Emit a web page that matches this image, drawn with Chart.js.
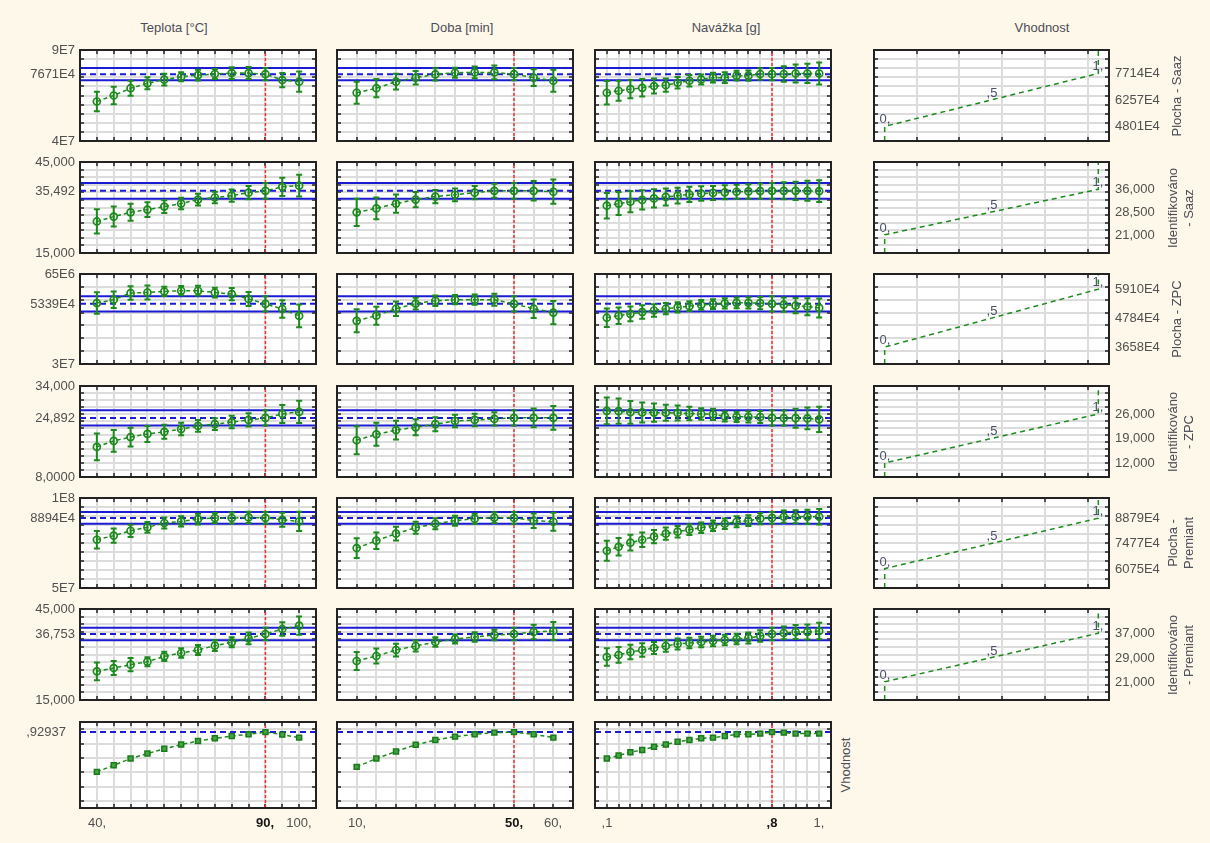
<!DOCTYPE html>
<html>
<head>
<meta charset="utf-8">
<script src="https://cdn.jsdelivr.net/npm/chart.js@4.4.0/dist/chart.umd.min.js"></script>
<style>
  html, body { margin: 0; padding: 0; background: #fef8ea; }
  #page { position: relative; width: 1210px; height: 843px; overflow: hidden; background: #fef8ea;
          font-family: "Liberation Sans", Arial, sans-serif; }
  #page canvas { position: absolute; }
  .coltitle { position: absolute; font-size: 13px; color: #4d4d58; white-space: nowrap;
              width: 200px; height: 16px; line-height: 16px; text-align: center; }
  .rowtitle { position: absolute; font-size: 13px; color: #4d4d58; white-space: nowrap; text-align: center;
              width: 120px; line-height: 16px; transform: rotate(-90deg); }
</style>
</head>
<body>
<div id="page"></div>
<script>
// ---- factor levels -------------------------------------------------------
const teplotaLevels = [40, 45, 50, 55, 60, 65, 70, 75, 80, 85, 90, 95, 100];
const dobaLevels = [10, 15, 20, 25, 30, 35, 40, 45, 50, 55, 60];
const navazkaLevels = [0.10, 0.15, 0.20, 0.25, 0.30, 0.35, 0.40, 0.45, 0.50, 0.55,
                       0.60, 0.65, 0.70, 0.75, 0.80, 0.85, 0.90, 0.95, 1.00];
const teplotaCurrent = 90, dobaCurrent = 50, navazkaCurrent = 0.8;

const teplotaTickValues = [40, 90, 100];
const teplotaTickText = ['40,', '90,', '100,'];
const dobaTickValues = [10, 50, 60];
const dobaTickText = ['10,', '50,', '60,'];
const navazkaTickValues = [0.1, 0.8, 1.0];
const navazkaTickText = [',1', ',8', '1,'];

const columnTitles = ['Teplota [°C]', 'Doba [min]', 'Navážka [g]', 'Vhodnost'];

// ---- Plocha - Saaz -------------------------------------------------------
const plochaSaazPred = 76710000;
const plochaSaazTeplota = [61.7e6, 65.0e6, 69.0e6, 71.7e6, 73.7e6, 75.3e6, 76.2e6, 76.8e6, 77.3e6, 77.3e6, 76.71e6, 73.5e6, 72.6e6];
const plochaSaazTeplotaErr = [5.4e6, 4.8e6, 4.1e6, 3.3e6, 3.2e6, 2.5e6, 2.9e6, 2.7e6, 3.2e6, 3.3e6, 3.35e6, 3.9e6, 5.6e6];
const plochaSaazDoba = [66.5e6, 69.0e6, 72.6e6, 74.8e6, 76.6e6, 77.5e6, 77.7e6, 77.7e6, 76.71e6, 74.8e6, 73.1e6];
const plochaSaazDobaErr = [6.1e6, 5.0e6, 4.3e6, 3.7e6, 3.4e6, 2.7e6, 3.2e6, 3.8e6, 3.35e6, 4.6e6, 6.1e6];
const plochaSaazNavazka = [66.5e6, 67.6e6, 68.5e6, 69.2e6, 70.2e6, 70.7e6, 72.0e6, 73.1e6, 73.8e6, 74.8e6,
                           74.8e6, 75.9e6, 75.9e6, 76.8e6, 76.71e6, 76.8e6, 77.1e6, 77.1e6, 77.1e6];
const plochaSaazNavazkaErr = [6.4e6, 5.5e6, 5.0e6, 4.8e6, 4.1e6, 3.7e6, 3.2e6, 3.2e6, 2.7e6, 2.7e6,
                              3.0e6, 2.7e6, 2.8e6, 3.2e6, 3.35e6, 4.3e6, 5.0e6, 5.3e6, 6.1e6];
const plochaSaazDes = [48010000, 62570000, 77140000];
const plochaSaazLeftText = ['9E7', '7671E4', '4E7'];
const plochaSaazRightText = ['7714E4', '6257E4', '4801E4'];

// ---- Identifikováno - Saaz ----------------------------------------------
const identSaazPred = 35492;
const identSaazTeplota = [25400, 27000, 28400, 29300, 30300, 31300, 32600, 33300, 33900, 34900, 35492, 36800, 37200];
const identSaazTeplotaErr = [4000, 3300, 2800, 2400, 2100, 1900, 1900, 1900, 2000, 2200, 2600, 3000, 3600];
const identSaazDoba = [28400, 29700, 31300, 32600, 33600, 34200, 34900, 35500, 35492, 35500, 35200];
const identSaazDobaErr = [4500, 3600, 3000, 2500, 2200, 2100, 2200, 2300, 2600, 3200, 4000];
const identSaazNavazka = [30600, 31300, 31900, 32500, 33000, 33500, 33900, 34300, 34600, 34800,
                          35000, 35200, 35300, 35400, 35492, 35500, 35500, 35500, 35400];
const identSaazNavazkaErr = [4200, 3800, 3500, 3200, 3000, 2800, 2600, 2500, 2400, 2300,
                             2300, 2300, 2400, 2500, 2600, 2800, 3000, 3300, 3600];
const identSaazDes = [21000, 28500, 36000];
const identSaazLeftText = ['45,000', '35,492', '15,000'];
const identSaazRightText = ['36,000', '28,500', '21,000'];

// ---- Plocha - ZPC --------------------------------------------------------
const plochaZpcPred = 53390000;
const plochaZpcTeplota = [53.7e6, 55.0e6, 57.6e6, 57.8e6, 58.2e6, 58.5e6, 58.5e6, 57.8e6, 57.2e6, 55.3e6, 53.39e6, 51.4e6, 48.7e6];
const plochaZpcTeplotaErr = [4.2e6, 3.2e6, 2.6e6, 2.7e6, 1.8e6, 1.8e6, 1.9e6, 1.9e6, 2.4e6, 2.7e6, 3.0e6, 3.4e6, 4.4e6];
const plochaZpcDoba = [46.8e6, 48.8e6, 51.5e6, 53.5e6, 54.6e6, 55.0e6, 55.0e6, 55.0e6, 53.39e6, 51.5e6, 50.0e6];
const plochaZpcDobaErr = [4.5e6, 3.5e6, 2.8e6, 2.3e6, 2.0e6, 1.8e6, 2.0e6, 2.3e6, 3.0e6, 3.6e6, 4.5e6];
const plochaZpcNavazka = [48.0e6, 48.8e6, 49.5e6, 50.2e6, 50.8e6, 51.5e6, 52.0e6, 52.5e6, 53.0e6, 53.3e6,
                          53.6e6, 53.8e6, 53.8e6, 53.7e6, 53.39e6, 53.1e6, 52.7e6, 52.3e6, 51.8e6];
const plochaZpcNavazkaErr = [3.6e6, 3.2e6, 2.9e6, 2.6e6, 2.4e6, 2.2e6, 2.0e6, 1.9e6, 1.9e6, 1.9e6,
                             2.0e6, 2.1e6, 2.2e6, 2.4e6, 3.0e6, 2.8e6, 3.0e6, 3.3e6, 3.7e6];
const plochaZpcDes = [36580000, 47840000, 59100000];
const plochaZpcLeftText = ['65E6', '5339E4', '3E7'];
const plochaZpcRightText = ['5910E4', '4784E4', '3658E4'];

// ---- Identifikováno - ZPC -----------------------------------------------
const identZpcPred = 24892;
const identZpcTeplota = [16600, 18300, 19400, 20300, 20900, 21700, 22600, 23100, 23700, 24300, 24892, 26000, 26600];
const identZpcTeplotaErr = [3800, 3100, 2700, 2300, 2000, 1800, 1700, 1700, 1800, 1900, 2150, 2600, 3200];
const identZpcDoba = [18500, 20200, 21400, 22200, 23100, 24000, 24300, 24600, 24892, 24900, 24900];
const identZpcDobaErr = [4000, 3300, 2700, 2300, 2000, 1800, 1800, 1900, 2150, 2700, 3400];
const identZpcNavazka = [26900, 26800, 26500, 26450, 26400, 26350, 26300, 26150, 26000, 25900,
                         25300, 25200, 25200, 25150, 24892, 24850, 24800, 24750, 24450];
const identZpcNavazkaErr = [3800, 3600, 3250, 2870, 2630, 2300, 2150, 1900, 1650, 1600,
                            1450, 1450, 1600, 1700, 2150, 2150, 2700, 3100, 3600];
const identZpcDes = [12000, 19000, 26000];
const identZpcLeftText = ['34,000', '24,892', '8,0000'];
const identZpcRightText = ['26,000', '19,000', '12,000'];

// ---- Plocha - Premiant ---------------------------------------------------
const plochaPremiantPred = 88940000;
const plochaPremiantTeplota = [76.8e6, 79.1e6, 81.8e6, 83.7e6, 86.1e6, 87.0e6, 88.3e6, 88.9e6, 88.9e6, 89.2e6, 88.94e6, 87.9e6, 87.0e6];
const plochaPremiantTeplotaErr = [4.9e6, 3.9e6, 3.4e6, 3.0e6, 3.1e6, 2.8e6, 3.0e6, 2.8e6, 3.1e6, 3.1e6, 3.3e6, 3.9e6, 5.4e6];
const plochaPremiantDoba = [72.2e6, 76.3e6, 80.2e6, 83.5e6, 85.7e6, 87.4e6, 88.5e6, 89.1e6, 88.94e6, 87.4e6, 86.8e6];
const plochaPremiantDobaErr = [5.5e6, 4.6e6, 3.8e6, 3.3e6, 3.0e6, 2.8e6, 2.8e6, 3.0e6, 3.3e6, 4.0e6, 5.0e6];
const plochaPremiantNavazka = [70.7e6, 72.9e6, 75.2e6, 76.8e6, 78.5e6, 80.2e6, 81.3e6, 82.4e6, 83.5e6, 84.6e6,
                               85.7e6, 86.8e6, 87.4e6, 88.5e6, 88.94e6, 89.6e6, 89.6e6, 89.6e6, 89.6e6];
const plochaPremiantNavazkaErr = [5.5e6, 4.9e6, 4.4e6, 4.0e6, 3.7e6, 3.4e6, 3.2e6, 3.0e6, 2.9e6, 2.9e6,
                                  2.9e6, 3.0e6, 3.0e6, 3.1e6, 3.3e6, 3.4e6, 3.6e6, 3.9e6, 4.3e6];
const plochaPremiantDes = [60750000, 74770000, 88790000];
const plochaPremiantLeftText = ['1E8', '8894E4', '5E7'];
const plochaPremiantRightText = ['8879E4', '7477E4', '6075E4'];

// ---- Identifikováno - Premiant ------------------------------------------
const identPremiantPred = 36753;
const identPremiantTeplota = [24440, 25540, 26640, 27630, 29390, 30490, 31480, 32910, 34010, 35320, 36753, 38400, 39500];
const identPremiantTeplotaErr = [2900, 2300, 2200, 1500, 1500, 1600, 1650, 1750, 1650, 1900, 2050, 2200, 3000];
const identPremiantDoba = [27860, 29500, 31480, 32800, 34120, 35110, 35770, 36430, 36753, 37420, 37750];
const identPremiantDobaErr = [3000, 2500, 2100, 1800, 1600, 1500, 1600, 1700, 2050, 2400, 3000];
const identPremiantNavazka = [29180, 29840, 30820, 31480, 32140, 32800, 33460, 33790, 34120, 34450,
                              34780, 35110, 35440, 36100, 36753, 37090, 37420, 37420, 37750];
const identPremiantNavazkaErr = [2900, 2600, 2400, 2200, 2000, 1900, 1800, 1700, 1700, 1700,
                                 1700, 1700, 1800, 1900, 2050, 2100, 2300, 2500, 2700];
const identPremiantDes = [21000, 29000, 37000];
const identPremiantLeftText = ['45,000', '36,753', '15,000'];
const identPremiantRightText = ['37,000', '29,000', '21,000'];

// ---- Vhodnost (overall desirability) -------------------------------------
const vhodnostPred = 0.92937;
const vhodnostTeplota = [0.652, 0.698, 0.745, 0.780, 0.813, 0.843, 0.867, 0.886, 0.902, 0.914, 0.92937, 0.912, 0.891];
const vhodnostDoba = [0.687, 0.745, 0.794, 0.841, 0.874, 0.898, 0.914, 0.926, 0.92937, 0.914, 0.891];
const vhodnostNavazka = [0.745, 0.766, 0.789, 0.804, 0.827, 0.843, 0.862, 0.874, 0.886, 0.891,
                         0.902, 0.914, 0.914, 0.919, 0.92937, 0.926, 0.919, 0.919, 0.919];
const vhodnostGrid = [0.45, 0.55, 0.65, 0.75, 0.85, 0.95];
const vhodnostLeftText = [',92937'];

const desirabilityLevels = [0, 0.5, 1];
const desirabilityText = ['0,', ',5', '1,'];
const desirabilityGrid = [0.15, 0.35, 0.55, 0.75, 0.95];

// ---- layout ---------------------------------------------------------------
const GREEN = '#1c8a1c', BLUE = '#1b1bd4', RED = '#ff2a2a', GRID = '#dcdcdc';
const TEXT = '#505050', FONT = '"Liberation Sans", Arial, sans-serif';

const factors = [
  { levels: teplotaLevels, current: teplotaCurrent, min: 35, max: 105, left: 80,
    tickValues: teplotaTickValues, tickText: teplotaTickText, titleX: 174 },
  { levels: dobaLevels, current: dobaCurrent, min: 5, max: 65, left: 337,
    tickValues: dobaTickValues, tickText: dobaTickText, titleX: 462 },
  { levels: navazkaLevels, current: navazkaCurrent, min: 0.05, max: 1.05, left: 595,
    tickValues: navazkaTickValues, tickText: navazkaTickText, titleX: 726 }
];
const PANEL_W = 236;

function steps(min, max, step) {
  const out = [];
  for (let k = 0; min + k * step <= max + step * 1e-6; k++) out.push(min + k * step);
  return out;
}

const responses = [
  { top: 50, h: 91, min: 40e6, max: 90e6, grid: steps(40e6, 90e6, 5e6), pred: plochaSaazPred,
    series: [plochaSaazTeplota, plochaSaazDoba, plochaSaazNavazka],
    errors: [plochaSaazTeplotaErr, plochaSaazDobaErr, plochaSaazNavazkaErr],
    des: plochaSaazDes, leftText: plochaSaazLeftText, rightText: plochaSaazRightText, title: ['Plocha - Saaz'] },
  { top: 162, h: 91, min: 15000, max: 45000, grid: steps(15000, 45000, 2500), pred: identSaazPred,
    series: [identSaazTeplota, identSaazDoba, identSaazNavazka],
    errors: [identSaazTeplotaErr, identSaazDobaErr, identSaazNavazkaErr],
    des: identSaazDes, leftText: identSaazLeftText, rightText: identSaazRightText, title: ['Identifikováno', '- Saaz'] },
  { top: 274, h: 90, min: 30e6, max: 65e6, grid: steps(30e6, 65e6, 5e6), pred: plochaZpcPred,
    series: [plochaZpcTeplota, plochaZpcDoba, plochaZpcNavazka],
    errors: [plochaZpcTeplotaErr, plochaZpcDobaErr, plochaZpcNavazkaErr],
    des: plochaZpcDes, leftText: plochaZpcLeftText, rightText: plochaZpcRightText, title: ['Plocha - ZPC'] },
  { top: 386, h: 91, min: 8000, max: 34000, grid: steps(8000, 34000, 2000), pred: identZpcPred,
    series: [identZpcTeplota, identZpcDoba, identZpcNavazka],
    errors: [identZpcTeplotaErr, identZpcDobaErr, identZpcNavazkaErr],
    des: identZpcDes, leftText: identZpcLeftText, rightText: identZpcRightText, title: ['Identifikováno', '- ZPC'] },
  { top: 498, h: 90, min: 50e6, max: 100e6, grid: steps(50e6, 100e6, 5e6), pred: plochaPremiantPred,
    series: [plochaPremiantTeplota, plochaPremiantDoba, plochaPremiantNavazka],
    errors: [plochaPremiantTeplotaErr, plochaPremiantDobaErr, plochaPremiantNavazkaErr],
    des: plochaPremiantDes, leftText: plochaPremiantLeftText, rightText: plochaPremiantRightText, title: ['Plocha -', 'Premiant'] },
  { top: 609, h: 91, min: 15000, max: 45000, grid: steps(15000, 45000, 2500), pred: identPremiantPred,
    series: [identPremiantTeplota, identPremiantDoba, identPremiantNavazka],
    errors: [identPremiantTeplotaErr, identPremiantDobaErr, identPremiantNavazkaErr],
    des: identPremiantDes, leftText: identPremiantLeftText, rightText: identPremiantRightText, title: ['Identifikováno', '- Premiant'] }
];
const vhodnostRow = { top: 722, h: 86, min: 0.4, max: 1.0, grid: vhodnostGrid, pred: vhodnostPred,
  series: [vhodnostTeplota, vhodnostDoba, vhodnostNavazka] };

const page = document.getElementById('page');

// Drawing helpers shared by every panel: white plot area, inward tick marks,
// error bars, frame and the text around the frame.
function panelPlugin(texts) {
  return {
    id: 'panelDecor',
    beforeDraw(chart) {
      const { ctx, chartArea: a } = chart;
      ctx.save();
      ctx.fillStyle = '#ffffff';
      ctx.fillRect(a.left, a.top, a.right - a.left, a.bottom - a.top);
      ctx.restore();
    },
    beforeDatasetsDraw(chart) {
      const { ctx, chartArea: a, scales: { x, y } } = chart;
      ctx.save();
      ctx.strokeStyle = '#222';
      ctx.lineWidth = 1.5;
      ctx.beginPath();
      x.ticks.forEach(t => {
        const p = Math.round(x.getPixelForValue(t.value));
        ctx.moveTo(p, a.top); ctx.lineTo(p, a.top + 4);
        ctx.moveTo(p, a.bottom); ctx.lineTo(p, a.bottom - 4);
      });
      y.ticks.forEach(t => {
        const p = Math.round(y.getPixelForValue(t.value));
        ctx.moveTo(a.left, p); ctx.lineTo(a.left + 4, p);
        ctx.moveTo(a.right, p); ctx.lineTo(a.right - 4, p);
      });
      ctx.stroke();
      ctx.restore();
    },
    afterDatasetsDraw(chart) {
      const { ctx, scales: { y } } = chart;
      chart.data.datasets.forEach((ds, i) => {
        if (!ds.errors) return;
        const meta = chart.getDatasetMeta(i);
        ctx.save();
        ctx.strokeStyle = GREEN;
        ctx.lineWidth = 2;
        ctx.beginPath();
        meta.data.forEach((pt, j) => {
          const v = ds.data[j].y, e = ds.errors[j];
          const y1 = y.getPixelForValue(v + e), y2 = y.getPixelForValue(v - e);
          ctx.moveTo(pt.x, y1); ctx.lineTo(pt.x, y2);
          ctx.moveTo(pt.x - 3, y1); ctx.lineTo(pt.x + 3, y1);
          ctx.moveTo(pt.x - 3, y2); ctx.lineTo(pt.x + 3, y2);
        });
        ctx.stroke();
        ctx.restore();
      });
    },
    afterDraw(chart) {
      const { ctx, chartArea: a, scales: { x, y } } = chart;
      ctx.save();
      ctx.strokeStyle = '#222';
      ctx.lineWidth = 2;
      ctx.strokeRect(a.left, a.top, a.right - a.left, a.bottom - a.top);
      ctx.textBaseline = 'middle';
      (texts.left || []).forEach(t => {
        ctx.font = '13px ' + FONT; ctx.fillStyle = TEXT; ctx.textAlign = 'right';
        ctx.fillText(t.text, a.left - (t.gap || 5), Math.round(y.getPixelForValue(t.v)));
      });
      (texts.right || []).forEach(t => {
        ctx.font = '13px ' + FONT; ctx.fillStyle = TEXT; ctx.textAlign = 'left';
        ctx.fillText(t.text, a.right + 6, Math.round(y.getPixelForValue(t.v)));
      });
      (texts.bottom || []).forEach(t => {
        ctx.font = (t.bold ? 'bold ' : '') + '13px ' + FONT;
        ctx.fillStyle = t.bold ? '#151515' : TEXT; ctx.textAlign = 'center';
        ctx.fillText(t.text, Math.round(x.getPixelForValue(t.v)), a.bottom + 15);
      });
      (texts.points || []).forEach(t => {
        ctx.font = '13px ' + FONT; ctx.fillStyle = '#4a5168'; ctx.textAlign = 'center';
        ctx.fillText(t.text, Math.round(x.getPixelForValue(t.x)), Math.round(y.getPixelForValue(t.y)) - 7);
      });
      ctx.restore();
    }
  };
}

function makePanel(box, pad, xAxis, yAxis, datasets, texts) {
  const c = document.createElement('canvas');
  const W = box.w + pad.l + pad.r, H = box.h + pad.t + pad.b;
  c.width = W; c.height = H;
  c.style.left = (box.x - pad.l) + 'px';
  c.style.top = (box.y - pad.t) + 'px';
  c.style.width = W + 'px'; c.style.height = H + 'px';
  page.appendChild(c);
  const axis = (ax) => ({
    type: 'linear', min: ax.min, max: ax.max,
    afterBuildTicks: s => { s.ticks = ax.grid.map(v => ({ value: v })); },
    ticks: { display: false },
    grid: { color: GRID, lineWidth: 2, drawTicks: false },
    border: { display: false }
  });
  new Chart(c, {
    type: 'line',
    data: { datasets },
    options: {
      responsive: false, animation: false, devicePixelRatio: 1, events: [],
      layout: { padding: { left: pad.l, right: pad.r, top: pad.t, bottom: pad.b }, autoPadding: false },
      plugins: { legend: { display: false }, tooltip: { enabled: false } },
      scales: { x: axis(xAxis), y: axis(yAxis) }
    },
    plugins: [panelPlugin(texts)]
  });
}

function hLine(xAxis, v, dashed, order) {
  return { data: [{ x: xAxis.min, y: v }, { x: xAxis.max, y: v }], borderColor: BLUE, borderWidth: 2,
           borderDash: dashed ? [6, 4] : [], pointRadius: 0, fill: false, order };
}
function vLine(x, yAxis) {
  return { data: [{ x, y: yAxis.min }, { x, y: yAxis.max }], borderColor: RED, borderWidth: 1.5,
           borderDash: [3, 2], pointRadius: 0, fill: false, order: 5 };
}

// ---- response rows ---------------------------------------------------------
responses.forEach((r) => {
  const yAxis = { min: r.min, max: r.max, grid: r.grid };
  const curErr = r.errors[0][factors[0].levels.indexOf(factors[0].current)];
  factors.forEach((f, ci) => {
    const xAxis = { min: f.min, max: f.max, grid: f.levels };
    const vals = r.series[ci];
    const datasets = [
      { data: f.levels.map((lv, k) => ({ x: lv, y: vals[k] })), errors: r.errors[ci],
        borderColor: GREEN, borderWidth: 1.5, borderDash: [4, 3], fill: false, tension: 0,
        pointStyle: 'circle', pointRadius: 3.5, pointBorderWidth: 1.7,
        pointBorderColor: GREEN, pointBackgroundColor: 'rgba(255,255,255,0)', order: 0 },
      hLine(xAxis, r.pred + curErr, false, 2),
      hLine(xAxis, r.pred - curErr, false, 2),
      hLine(xAxis, r.pred, true, 3),
      vLine(f.current, yAxis)
    ];
    const texts = {};
    if (ci === 0) {
      texts.left = [r.max, r.pred, r.min].map((v, k) => ({ v, text: r.leftText[k] }));
    }
    makePanel({ x: f.left, y: r.top, w: PANEL_W, h: r.h },
              { l: ci === 0 ? 72 : 6, r: 6, t: 8, b: 8 }, xAxis, yAxis, datasets, texts);
  });

  // desirability function of this response
  const dx = { min: -0.05, max: 1.05, grid: desirabilityGrid };
  const desPts = [{ x: 0, y: r.min }]
    .concat(desirabilityLevels.map((d, k) => ({ x: d, y: r.des[k] })))
    .concat([{ x: 1, y: r.max }]);
  makePanel({ x: 874, y: r.top, w: 235, h: r.h }, { l: 6, r: 72, t: 8, b: 8 }, dx, yAxis,
    [{ data: desPts, borderColor: GREEN, borderWidth: 1.5, borderDash: [5, 4], pointRadius: 0, fill: false, tension: 0 }],
    { right: [r.des[2], r.des[1], r.des[0]].map((v, k) => ({ v, text: r.rightText[k] })),
      points: desirabilityLevels.map((d, k) => ({ x: d, y: r.des[k], text: desirabilityText[k] })) });

  const t = document.createElement('div');
  t.className = 'rowtitle';
  t.innerHTML = r.title.join('<br>');
  const hgt = 16 * r.title.length;
  const cx = r.title.length > 1 ? 1181 : 1177;
  const cy = Math.round(r.top + r.h / 2);
  t.style.height = hgt + 'px';
  t.style.left = (cx - 60) + 'px';
  t.style.top = (cy - hgt / 2) + 'px';
  page.appendChild(t);
});

// ---- overall desirability row -----------------------------------------------
factors.forEach((f, ci) => {
  const r = vhodnostRow;
  const xAxis = { min: f.min, max: f.max, grid: f.levels };
  const yAxis = { min: r.min, max: r.max, grid: r.grid };
  const vals = r.series[ci];
  const datasets = [
    { data: f.levels.map((lv, k) => ({ x: lv, y: vals[k] })),
      borderColor: GREEN, borderWidth: 1.5, borderDash: [4, 3], fill: false, tension: 0,
      pointStyle: 'rect', pointRadius: 3.5, pointBorderWidth: 1.5,
      pointBorderColor: '#1a7a1a', pointBackgroundColor: '#44a444', order: 0 },
    hLine(xAxis, r.pred, true, 3),
    vLine(f.current, yAxis)
  ];
  const texts = {
    bottom: f.tickValues.map((v, k) => ({ v, text: f.tickText[k], bold: v === f.current }))
  };
  if (ci === 0) texts.left = [{ v: r.pred, text: vhodnostLeftText[0], gap: 14 }];
  makePanel({ x: f.left, y: r.top, w: PANEL_W, h: r.h },
            { l: ci === 0 ? 72 : 6, r: 6, t: 8, b: 30 }, xAxis, yAxis, datasets, texts);
});

// ---- column and row titles ----------------------------------------------------
columnTitles.forEach((txt, k) => {
  const d = document.createElement('div');
  d.className = 'coltitle';
  d.textContent = txt;
  d.style.left = ((k < 3 ? factors[k].titleX : 1042) - 100) + 'px';
  d.style.top = '20px';
  page.appendChild(d);
});
const vh = document.createElement('div');
vh.className = 'rowtitle';
vh.textContent = 'Vhodnost';
vh.style.height = '16px';
vh.style.left = (846 - 60) + 'px';
vh.style.top = (765 - 8) + 'px';
page.appendChild(vh);
</script>
</body>
</html>
